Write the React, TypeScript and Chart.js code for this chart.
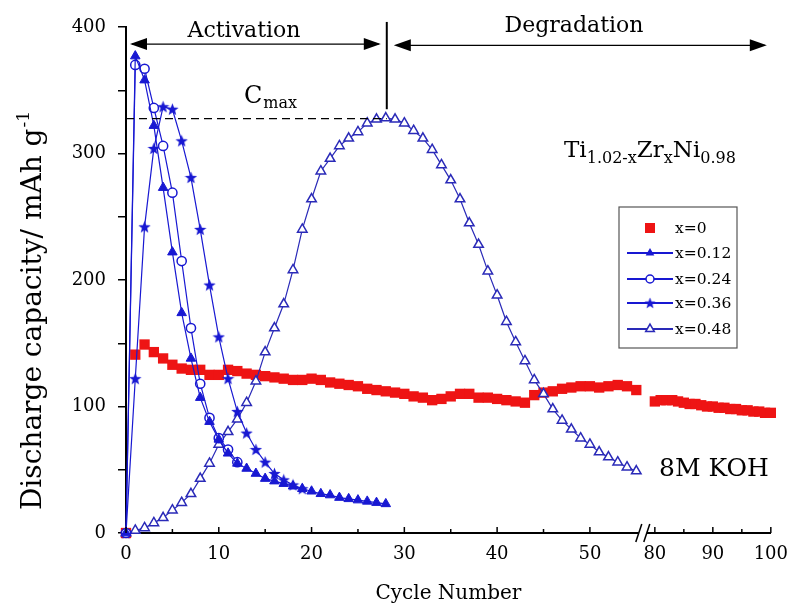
import React, { useEffect, useRef } from 'react';
import { Chart, registerables } from 'chart.js';

Chart.register(...registerables);

const FONT = '"DejaVu Serif", serif';

// ---------- data (cycle number -> discharge capacity, mAh/g) ----------
const leftStartCycle = 0;
const rightStartCycle = 80;

const x0Left = [0, 141, 149, 143, 138, 133, 130, 129, 129, 125, 125, 129, 128, 126, 125, 124, 123, 122, 121, 121,
  122, 121, 119, 118, 117, 116, 114, 113, 112, 111, 110, 108, 107, 105, 106, 108, 110, 110, 107, 107,
  106, 105, 104, 103, 109, 111, 112, 114, 115, 116, 116, 115, 116, 117, 116, 113];
const x0Right = [104, 105, 105, 105, 104, 103, 102, 102, 101, 100, 100, 99, 99, 98, 98, 97, 97, 96, 96, 95, 95];
const x012 = [0, 377, 358, 322, 273, 222, 174, 138, 107, 88, 74, 63, 55, 51, 47, 43, 41, 39, 37, 35, 33, 31, 30, 28, 27, 26, 25, 24, 23];
const x024 = [0, 370, 367, 336, 306, 269, 215, 162, 118, 91, 75, 66, 56];
const x036 = [0, 122, 242, 304, 337, 335, 310, 281, 240, 196, 155, 122, 96, 79, 66, 56, 47, 42, 38, 35];
const x048 = [0, 2, 4, 8, 12, 18, 24, 31, 43, 55, 70, 80, 90, 103, 120, 143, 162, 181, 208, 240,
  264, 286, 296, 306, 312, 317, 324, 327, 328, 327, 324, 318, 312, 303, 291, 279, 264, 245, 228, 207,
  188, 167, 151, 136, 121, 110, 98, 89, 82, 75, 70, 64, 60, 56, 52, 49];

const seriesLabels = ['x=0', 'x=0.12', 'x=0.24', 'x=0.36', 'x=0.48'];
const xMajorCycles = [0, 10, 20, 30, 40, 50, 80, 90, 100];
const xMinorCycles = [5, 15, 25, 35, 45, 85, 95];
const yMin = 0, yMax = 400, yStep = 50;
const cmaxValue = 327.5;
const cmaxCycle = 28;

// broken axis: cycles 0..~55 linear, then 80..100 compressed
const RIGHT_U0 = 57;
const RIGHT_SCALE = 0.625;
const BREAK_U = 55.7;
const U_MAX = RIGHT_U0 + (100 - rightStartCycle) * RIGHT_SCALE;
function toU(c: number) {
  return c >= rightStartCycle ? RIGHT_U0 + (c - rightStartCycle) * RIGHT_SCALE : c;
}
function toPoints(values: number[], start: number) {
  return values.map((v, i) => ({ x: toU(start + i), y: v }));
}

const RED = '#ee1414';
const BLUE = '#1818d2';
const BLUE2 = '#2a2ab8';

function makeStar(color: string, size: number) {
  const c = document.createElement('canvas');
  c.width = size; c.height = size;
  const g = c.getContext('2d')!;
  const cx = size / 2, cy = size / 2 + 0.5, R = size / 2, r = R * 0.42;
  g.beginPath();
  for (let i = 0; i < 10; i++) {
    const a = -Math.PI / 2 + (i * Math.PI) / 5;
    const rr = i % 2 ? r : R;
    g.lineTo(cx + rr * Math.cos(a), cy + rr * Math.sin(a));
  }
  g.closePath();
  g.fillStyle = color;
  g.fill();
  return c;
}

export default function App() {
  const ref = useRef<HTMLCanvasElement | null>(null);

  useEffect(() => {
    const canvas = ref.current!;
    const star = makeStar(BLUE, 13);

    const annot = {
      id: 'annot',
      afterDraw(chart: any) {
        const { ctx, chartArea } = chart;
        const xs = chart.scales.x, ys = chart.scales.y;
        const X = (c: number) => xs.getPixelForValue(toU(c));
        const Y = (v: number) => ys.getPixelForValue(v);
        const bottom = chartArea.bottom;
        ctx.save();
        ctx.strokeStyle = '#000';
        ctx.fillStyle = '#000';
        // inward x ticks
        ctx.lineWidth = 1.5;
        const tick = (c: number, len: number) => {
          const px = X(c);
          ctx.beginPath(); ctx.moveTo(px, bottom); ctx.lineTo(px, bottom - len); ctx.stroke();
        };
        xMajorCycles.forEach((c) => tick(c, 6));
        xMinorCycles.forEach((c) => tick(c, 4));
        // axis break
        const bx = xs.getPixelForValue(BREAK_U);
        ctx.fillStyle = '#fff';
        ctx.fillRect(bx - 4, bottom - 3, 8, 6);
        ctx.fillStyle = '#000';
        ctx.lineWidth = 1.5;
        [-4, 4].forEach((d) => {
          ctx.beginPath(); ctx.moveTo(bx + d - 3, bottom + 9); ctx.lineTo(bx + d + 3, bottom - 9); ctx.stroke();
        });

        // arrows
        const head = (x: number, y: number, dir: number) => {
          ctx.beginPath();
          ctx.moveTo(x, y);
          ctx.lineTo(x - dir * 17, y - 6);
          ctx.lineTo(x - dir * 17, y + 6);
          ctx.closePath();
          ctx.fill();
        };
        const vx = X(cmaxCycle) + 1;
        const ay = Y(386.5);
        ctx.lineWidth = 1.3;
        ctx.beginPath(); ctx.moveTo(X(0) + 6, ay); ctx.lineTo(vx - 8, ay); ctx.stroke();
        head(X(0) + 4, ay, -1);
        head(vx - 6, ay, 1);
        const dy = Y(385.5);
        ctx.beginPath(); ctx.moveTo(vx + 10, dy); ctx.lineTo(X(100) - 6, dy); ctx.stroke();
        head(vx + 7, dy, -1);
        head(X(100) - 4, dy, 1);
        // vertical separator
        ctx.lineWidth = 2;
        ctx.beginPath(); ctx.moveTo(vx, Y(404)); ctx.lineTo(vx, Y(335)); ctx.stroke();
        // Cmax dashed line
        ctx.lineWidth = 1.3;
        ctx.setLineDash([8, 5]);
        ctx.beginPath(); ctx.moveTo(X(0), Y(cmaxValue)); ctx.lineTo(vx, Y(cmaxValue)); ctx.stroke();
        ctx.setLineDash([]);

        // texts
        ctx.textBaseline = 'alphabetic';
        ctx.textAlign = 'center';
        ctx.font = `22px ${FONT}`;
        ctx.fillText('Activation', 244, 37);
        ctx.fillText('Degradation', 574, 32);
        ctx.textAlign = 'left';
        ctx.font = `24px ${FONT}`;
        ctx.fillText('C', 244, 103);
        const w = ctx.measureText('C').width;
        ctx.font = `16px ${FONT}`;
        ctx.fillText('max', 244 + w + 1, 108);

        // formula
        const parts: [string, boolean][] = [['Ti', false], ['1.02-x', true], ['Zr', false], ['x', true], ['Ni', false], ['0.98', true]];
        let fx = 564;
        parts.forEach(([t, sub]) => {
          ctx.font = sub ? `16px ${FONT}` : `23px ${FONT}`;
          ctx.fillText(t, fx, sub ? 163 : 157);
          fx += ctx.measureText(t).width;
        });

        ctx.font = `25px ${FONT}`;
        ctx.fillText('8M KOH', 659, 476);

        // y axis title
        ctx.save();
        ctx.translate(34, 311);
        ctx.rotate(-Math.PI / 2);
        ctx.font = `28px ${FONT}`;
        const mainT = 'Discharge capacity/ mAh g';
        const mw = ctx.measureText(mainT).width;
        ctx.font = `17px ${FONT}`;
        const supT = '-1';
        const sw = ctx.measureText(supT).width;
        const sx = -(mw + sw) / 2;
        ctx.textBaseline = 'middle';
        ctx.font = `28px ${FONT}`;
        ctx.fillText(mainT, sx, 0);
        ctx.font = `17px ${FONT}`;
        ctx.fillText(supT, sx + mw + 1, -9);
        ctx.restore();

        // legend
        const lx0 = 619, ly0 = 207, lx1 = 737, ly1 = 348;
        ctx.fillStyle = '#fff';
        ctx.fillRect(lx0, ly0, lx1 - lx0, ly1 - ly0);
        ctx.strokeStyle = '#555';
        ctx.lineWidth = 1.2;
        ctx.strokeRect(lx0, ly0, lx1 - lx0, ly1 - ly0);
        const rows = [228, 253, 279, 303, 329];
        const mx = 650;
        rows.forEach((ry, i) => {
          const col = i === 4 ? BLUE2 : BLUE;
          if (i > 0) {
            ctx.strokeStyle = col;
            ctx.lineWidth = 1.8;
            ctx.beginPath(); ctx.moveTo(627, ry); ctx.lineTo(673, ry); ctx.stroke();
          }
          ctx.lineWidth = 1.5;
          if (i === 0) {
            ctx.fillStyle = RED;
            ctx.fillRect(mx - 5, ry - 5, 10, 10);
          } else if (i === 1 || i === 4) {
            const r = 5;
            ctx.beginPath();
            ctx.moveTo(mx, ry - r);
            ctx.lineTo(mx + r * 0.866, ry + r * 0.5);
            ctx.lineTo(mx - r * 0.866, ry + r * 0.5);
            ctx.closePath();
            if (i === 1) { ctx.fillStyle = col; ctx.fill(); }
            else { ctx.fillStyle = '#fff'; ctx.fill(); ctx.strokeStyle = col; ctx.stroke(); }
          } else if (i === 2) {
            ctx.beginPath(); ctx.arc(mx, ry, 4, 0, Math.PI * 2);
            ctx.fillStyle = '#fff'; ctx.fill(); ctx.strokeStyle = col; ctx.stroke();
          } else {
            ctx.drawImage(star, mx - 6, ry - 6, 12, 12);
          }
          ctx.fillStyle = '#000';
          ctx.font = `15.5px ${FONT}`;
          ctx.textBaseline = 'middle';
          ctx.fillText(seriesLabels[i], 675, ry + 1);
        });
        ctx.restore();
      },
    };

    const chart = new Chart(canvas, {
      type: 'line',
      data: {
        datasets: [
          {
            label: seriesLabels[0],
            data: [...toPoints(x0Left, leftStartCycle), ...toPoints(x0Right, rightStartCycle)],
            showLine: false,
            pointStyle: 'rect',
            pointRadius: 7.3,
            pointBackgroundColor: RED,
            pointBorderWidth: 0,
            borderColor: RED,
            order: 5,
            clip: false,
          },
          {
            label: seriesLabels[1],
            data: toPoints(x012, leftStartCycle),
            borderColor: BLUE,
            borderWidth: 1.2,
            pointStyle: 'triangle',
            pointRadius: 5.5,
            pointBackgroundColor: BLUE,
            pointBorderColor: BLUE,
            pointBorderWidth: 1,
            order: 1,
            clip: false,
          },
          {
            label: seriesLabels[2],
            data: toPoints(x024, leftStartCycle),
            borderColor: BLUE,
            borderWidth: 1.2,
            pointStyle: 'circle',
            pointRadius: 4.6,
            pointBackgroundColor: '#fff',
            pointBorderColor: BLUE,
            pointBorderWidth: 1.5,
            order: 2,
            clip: false,
          },
          {
            label: seriesLabels[3],
            data: toPoints(x036, leftStartCycle),
            borderColor: BLUE,
            borderWidth: 1.2,
            pointStyle: star,
            pointRadius: 6,
            order: 3,
            clip: false,
          },
          {
            label: seriesLabels[4],
            data: toPoints(x048, leftStartCycle),
            borderColor: BLUE2,
            borderWidth: 1.2,
            pointStyle: 'triangle',
            pointRadius: 5.5,
            pointBackgroundColor: '#fff',
            pointBorderColor: BLUE2,
            pointBorderWidth: 1.5,
            order: 4,
            clip: false,
          },
        ],
      },
      options: {
        responsive: false,
        animation: false,
        events: [],
        layout: { padding: { top: 27, right: 20, left: 0, bottom: 0 } },
        plugins: { legend: { display: false }, tooltip: { enabled: false } },
        scales: {
          x: {
            type: 'linear',
            min: 0,
            max: U_MAX,
            afterFit: (s: any) => { s.height = 79; },
            afterBuildTicks: (s: any) => { s.ticks = xMajorCycles.map((c) => ({ value: toU(c) })); },
            grid: { display: false, drawTicks: false },
            border: { display: true, color: '#000', width: 2 },
            ticks: {
              autoSkip: false,
              maxRotation: 0,
              padding: 11,
              color: '#000',
              font: { family: FONT, size: 18 },
              callback: (v: any) => {
                const idx = xMajorCycles.findIndex((c) => Math.abs(toU(c) - v) < 1e-6);
                return idx >= 0 ? String(xMajorCycles[idx]) : '';
              },
            },
            title: {
              display: true,
              text: 'Cycle Number',
              color: '#000',
              font: { family: FONT, size: 20 },
              padding: { top: 0, bottom: 6 },
            },
          },
          y: {
            type: 'linear',
            min: yMin,
            max: yMax,
            afterFit: (s: any) => { s.width = 126; },
            grid: { display: true, drawOnChartArea: false, drawTicks: true, tickLength: 8, color: '#000', lineWidth: 1.5 },
            border: { display: true, color: '#000', width: 2 },
            ticks: {
              stepSize: yStep,
              padding: 12,
              color: '#000',
              font: { family: FONT, size: 18 },
              callback: (v: any) => (Number(v) % 100 === 0 ? String(v) : ''),
            },
          },
        },
      },
      plugins: [annot],
    } as any);

    return () => chart.destroy();
  }, []);

  return (
    <div style={{ position: 'fixed', left: 0, top: 0, width: 799, height: 612, background: '#fff' }}>
      <canvas ref={ref} width={799} height={612} style={{ display: 'block' }} />
    </div>
  );
}
